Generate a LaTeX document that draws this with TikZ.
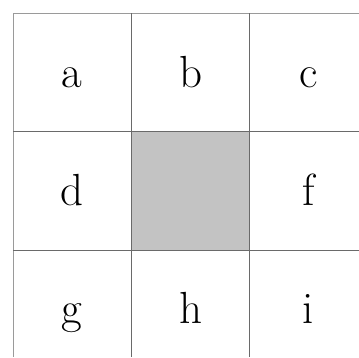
\documentclass[tikz,border=0pt]{standalone}
\usepackage{fontspec}
\setmainfont{Latin Modern Roman}
\definecolor{outerline}{HTML}{9A9A9A}
\definecolor{innerline}{HTML}{6A6A6A}
\definecolor{cellgray}{HTML}{C3C3C3}
\tikzset{
  gridouter/.style={draw=outerline, line width=1pt},
  gridinner/.style={draw=innerline, line width=1pt},
  letter/.style={anchor=base, inner sep=0pt, font=\fontsize{45}{54}\selectfont},
}
\begin{document}
\begin{tikzpicture}[x=1pt,y=-1pt]
\useasboundingbox (0,0) rectangle (359,358);
% shaded centre cell
\fill[cellgray] (131.5,132) rectangle (249.5,250.5);
% coordinates
\coordinate (tl) at (13,13.5);
\coordinate (tr) at (359,13.5);
\coordinate (bl) at (13,357);
\coordinate (v1t) at (131.5,13.5);
\coordinate (v1b) at (131.5,357);
\coordinate (v2t) at (249.5,13.5);
\coordinate (v2b) at (249.5,357);
\coordinate (h1l) at (13,132);
\coordinate (h1r) at (359,132);
\coordinate (h2l) at (13,250.5);
\coordinate (h2r) at (359,250.5);
% outer lines
\draw[gridouter] (tr) -- (tl) -- (bl);
% inner lines
\draw[gridinner] (v1t) -- (v1b);
\draw[gridinner] (v2t) -- (v2b);
\draw[gridinner] (h1l) -- (h1r);
\draw[gridinner] (h2l) -- (h2r);
% letters
\node[letter] (a) at (72,87.5) {a};
\node[letter] (b) at (190.5,87.5) {b};
\node[letter] (c) at (308.5,87.5) {c};
\node[letter] (d) at (72,205.5) {d};
\node[letter] (f) at (308.5,205.5) {f};
\node[letter] (g) at (72,323.5) {g};
\node[letter] (h) at (190.5,323.5) {h};
\node[letter] (i) at (308.5,323.5) {i};
\end{tikzpicture}
\end{document}
